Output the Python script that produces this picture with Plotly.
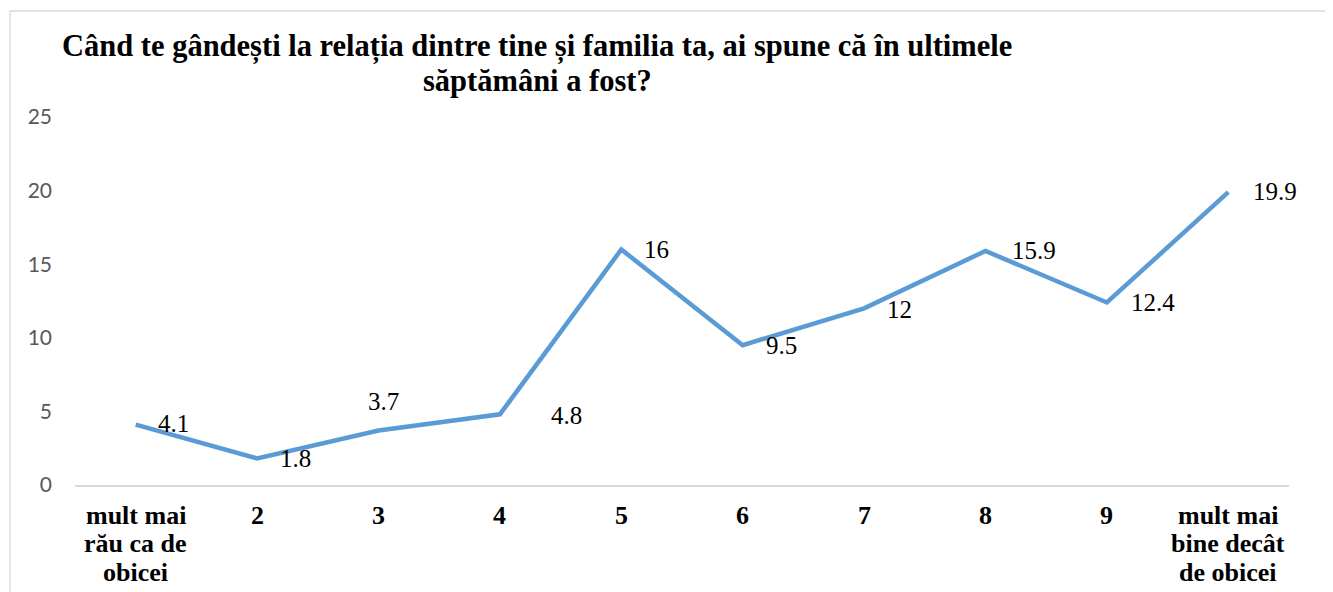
import plotly.graph_objects as go

categories = ["mult mai<br>rău ca de<br>obicei", "2", "3", "4", "5", "6", "7", "8", "9",
              "mult mai<br>bine decât<br>de obicei"]
values = [4.1, 1.8, 3.7, 4.8, 16, 9.5, 12, 15.9, 12.4, 19.9]
value_labels = ["4.1", "1.8", "3.7", "4.8", "16", "9.5", "12", "15.9", "12.4", "19.9"]
title_lines = ["Când te gândești la relația dintre tine și familia ta, ai spune că în ultimele",
               "săptămâni a fost?"]
y_ticks = [0, 5, 10, 15, 20, 25]

# label placement (style): (xanchor, xshift, yanchor, yshift)
label_pos = [("left", 20, "middle", 1), ("left", 21, "middle", 0), ("center", 5, "middle", 29),
             ("left", 49, "middle", -1), ("left", 21, "middle", 0), ("left", 21, "middle", 0),
             ("left", 21, "middle", -1), ("left", 24, "middle", 0), ("left", 22, "middle", 0),
             ("left", 23, "middle", 1)]

SERIF = "Liberation Serif, Times New Roman, serif"

# page offset (browser body margin)
OFF = 8
W, H = 1333, 592
# plot area in screen pixels: x 75..1289, y 117..485
L, R, T, B = 75 - OFF, W - (1289 - OFF), 117 - OFF, H - (485 - OFF)
pw, ph = W - L - R, H - T - B


def px_to_paper(sx, sy):
    fx, fy = sx - OFF, sy - OFF
    return (fx - L) / pw, (H - B - fy) / ph


fig = go.Figure()
fig.add_trace(go.Scatter(x=categories, y=values, mode="lines",
                         line=dict(color="#5B9BD5", width=4.5), hoverinfo="skip"))

annotations = []
for i, (v, t, (xa, dx, ya, dy)) in enumerate(zip(values, value_labels, label_pos)):
    annotations.append(dict(x=i, y=v, xref="x", yref="y", text=t, showarrow=False,
                            xanchor=xa, yanchor=ya, xshift=dx, yshift=dy,
                            font=dict(family=SERIF, size=25, color="#000000")))

# category labels, one annotation per line for tight line spacing
line_y = [515, 543.5, 572]
for i, cat in enumerate(categories):
    for j, part in enumerate(cat.split("<br>")):
        _, py = px_to_paper(0, line_y[j])
        annotations.append(dict(x=i, y=py, xref="x", yref="paper", text=part, showarrow=False,
                                xanchor="center", yanchor="middle",
                                font=dict(family=SERIF, size=26, color="#000000", weight="bold")))

title_y = [46.5, 80.5]
for line, sy in zip(title_lines, title_y):
    tx, ty = px_to_paper(537, sy)
    annotations.append(dict(x=tx, y=ty, xref="paper", yref="paper", text=line,
                            showarrow=False, xanchor="center", yanchor="middle",
                            font=dict(family=SERIF, size=30.5, color="#000000", weight="bold")))

bx0, by1 = px_to_paper(10, 11)
shapes = [dict(type="rect", xref="paper", yref="paper", x0=bx0, x1=1.2, y0=-0.6, y1=by1,
               line=dict(color="#D9D9D9", width=1.3), fillcolor="rgba(0,0,0,0)", layer="below")]

fig.update_layout(
    width=W, height=H,
    margin=dict(l=L, r=R, t=T, b=B),
    paper_bgcolor="white", plot_bgcolor="white",
    showlegend=False,
    annotations=annotations,
    shapes=shapes,
    xaxis=dict(type="category", range=[-0.5, 9.5], automargin=False,
               showgrid=False, zeroline=False, showline=True,
               linecolor="#D9D9D9", linewidth=1.5, ticks="", showticklabels=False),
    yaxis=dict(range=[0, 25], tickvals=y_ticks, automargin=False,
               showgrid=False, zeroline=False,
               showline=False, ticks="", ticklabelstandoff=22,
               tickfont=dict(family="Lato", size=21, color="#595959")),
)

fig.write_html("out.html")
